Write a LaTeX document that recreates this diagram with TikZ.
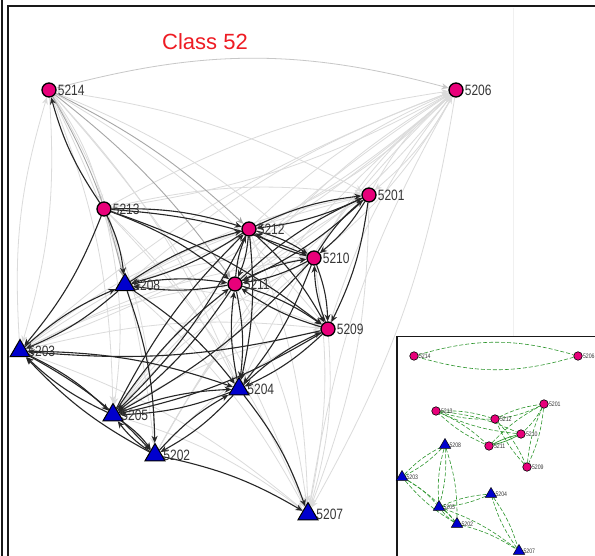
\documentclass[tikz,border=0pt]{standalone}
\usepackage{fontspec}
\setmainfont{Liberation Sans}
\newfontfamily\lblfont[FakeStretch=0.8]{Liberation Sans}
\usetikzlibrary{shapes.geometric,arrows.meta}
\pgfdeclarelayer{bgfill}\pgfdeclarelayer{edges}\pgfdeclarelayer{ibox}\pgfdeclarelayer{iedges}\pgfdeclarelayer{inodes}
\pgfsetlayers{bgfill,edges,main,ibox,iedges,inodes}
\definecolor{pinkf}{RGB}{232,0,122}
\definecolor{bluef}{RGB}{0,0,205}
\definecolor{titlered}{RGB}{238,28,36}
\definecolor{lblgray}{RGB}{55,55,55}
\definecolor{dgreen}{RGB}{45,150,45}
\begin{document}
\begin{tikzpicture}[x=1pt,y=-1pt,
 cnode/.style={circle,draw=black,line width=1.3pt,fill=pinkf,minimum size=14pt,inner sep=0pt},
 tnode/.style={regular polygon,regular polygon sides=3,draw=black,line width=1pt,fill=bluef,minimum size=23pt,inner sep=0pt},
 lbl/.style={font=\lblfont\fontsize{15}{15}\selectfont,text=lblgray,inner sep=1pt,label distance=0pt},
 strong/.style={draw=black!85,line width=1.1pt,-{Stealth[length=7pt,width=6pt]},bend left=9},
 medium/.style={draw=black!35,line width=0.9pt,-{Stealth[length=7pt,width=6pt]},bend left=8},
 weak/.style={draw=black!14,line width=0.8pt,-{Stealth[length=7pt,width=6pt]},bend left=10},
 icnode/.style={circle,draw=black,line width=0.6pt,fill=pinkf,minimum size=8.5pt,inner sep=0pt},
 itnode/.style={regular polygon,regular polygon sides=3,draw=black,line width=0.5pt,fill=bluef,minimum size=13pt,inner sep=0pt},
 ilbl/.style={font=\lblfont\fontsize{6.5}{6.5}\selectfont,text=lblgray,inner sep=0.3pt},
 iedge/.style={draw=dgreen,line width=0.6pt,dash pattern=on 4pt off 2pt,bend left=9},
 frame/.style={draw=black!90,line width=2pt}
]
\useasboundingbox (0,0) rectangle (595,556);
\begin{pgfonlayer}{bgfill}
\fill[white] (0,0) rectangle (595,556);
\draw[black!6,line width=0.8pt] (513,8) -- (513,336);
\end{pgfonlayer}
% frames
\draw[frame] (1.5,0) -- (1.5,556);
\draw[frame] (8,560) -- (8,6.5) -- (600,6.5);
% title
\node[text=titlered,font=\fontsize{22}{22}\selectfont] (title) at (205,42) {Class 52};
% main nodes
\node[cnode,label={[lbl]right:5214}] (n5214) at (49,90) {};
\node[cnode,label={[lbl]right:5206}] (n5206) at (456,90) {};
\node[cnode,label={[lbl]right:5213}] (n5213) at (104,209) {};
\node[cnode,label={[lbl]right:5201}] (n5201) at (369,195) {};
\node[cnode,label={[lbl]right:5212}] (n5212) at (249,229) {};
\node[cnode,label={[lbl]right:5210}] (n5210) at (314,258) {};
\node[cnode,label={[lbl]right:5211}] (n5211) at (235,284) {};
\node[cnode,label={[lbl]right:5209}] (n5209) at (328,329) {};
\node[tnode,label={[lbl]right:5208}] (n5208) at (125,285) {};
\node[tnode,label={[lbl]right:5203}] (n5203) at (20,351) {};
\node[tnode,label={[lbl]right:5204}] (n5204) at (239,389) {};
\node[tnode,label={[lbl]right:5205}] (n5205) at (113,415) {};
\node[tnode,label={[lbl]right:5202}] (n5202) at (155,455) {};
\node[tnode,label={[lbl]right:5207}] (n5207) at (308,514) {};
% main edges
\begin{pgfonlayer}{edges}
\draw[weak,draw=black!22,bend left=15] (n5214) to (n5206);
\foreach \a in {5213,5212,5211,5210,5201,5209,5208,5203,5205,5204,5202,5207}
  \draw[weak] (n\a) to (n5206);
\foreach \a in {5214,5213,5208,5203,5205,5211,5212,5210,5209,5201,5206}
  \draw[weak] (n\a) to (n5207);
\foreach \b in {5203,5208,5205,5202,5210,5201,5209,5204,5213}
  \draw[weak] (n5214) to (n\b);
\foreach \b in {5212,5211,5208,5213,5203,5201,5210}
  \draw[weak] (n5206) to (n\b);
\foreach \a/\b in {5203/5209,5203/5210,5208/5201,5213/5201,5203/5201,5205/5210,5202/5209,5202/5210,5202/5201,5205/5201,5203/5212,5208/5209,5208/5210,5213/5204,5213/5202,5203/5211,5205/5209,5213/5205,5203/5214}
  \draw[weak] (n\a) to (n\b);
\foreach \a/\b in {5214/5212,5214/5211,5214/5208}
  \draw[medium] (n\a) to (n\b);
\foreach \a/\b in {5213/5214,5213/5212,5213/5208,5213/5211,5213/5210,5213/5203,5213/5209,
 5212/5201,5201/5212,5212/5210,5210/5212,5212/5211,5211/5212,5212/5208,5208/5212,5212/5209,5212/5204,5212/5205,5205/5212,
 5211/5201,5201/5211,5211/5210,5210/5211,5211/5209,5209/5211,5211/5204,5204/5211,5211/5208,5208/5211,5211/5205,5205/5211,
 5210/5201,5201/5210,5210/5209,5209/5210,5210/5204,5210/5205,
 5209/5204,5204/5209,5209/5203,5209/5205,5201/5209,
 5208/5203,5203/5208,5208/5202,5208/5204,
 5203/5205,5205/5203,5203/5202,5202/5203,5203/5204,
 5204/5205,5205/5204,5204/5202,5202/5204,5204/5207,
 5205/5202,5202/5205,5202/5207}
  \draw[strong] (n\a) to (n\b);
\end{pgfonlayer}
% inset
\begin{pgfonlayer}{ibox}
\fill[white] (397,336.5) rectangle (600,560);
\draw[black!90,line width=1.3pt] (397,560) -- (397,336.5) -- (600,336.5);
\end{pgfonlayer}
\begin{pgfonlayer}{inodes}
\node[icnode,label={[ilbl]right:5214}] (i5214) at (414,356) {};
\node[icnode,label={[ilbl]right:5206}] (i5206) at (578,356) {};
\node[icnode,label={[ilbl]right:5213}] (i5213) at (436,411) {};
\node[icnode,label={[ilbl]right:5212}] (i5212) at (495,419) {};
\node[icnode,label={[ilbl]right:5201}] (i5201) at (544,404) {};
\node[icnode,label={[ilbl]right:5210}] (i5210) at (521,434) {};
\node[icnode,label={[ilbl]right:5211}] (i5211) at (489,446) {};
\node[icnode,label={[ilbl]right:5209}] (i5209) at (527,467) {};
\node[itnode,label={[ilbl]right:5208}] (i5208) at (445,445) {};
\node[itnode,label={[ilbl]right:5203}] (i5203) at (402,477) {};
\node[itnode,label={[ilbl]right:5204}] (i5204) at (491,494) {};
\node[itnode,label={[ilbl]right:5205}] (i5205) at (439,507) {};
\node[itnode,label={[ilbl]right:5202}] (i5202) at (457,524) {};
\node[itnode,label={[ilbl]right:5207}] (i5207) at (519,551) {};
\end{pgfonlayer}
\begin{pgfonlayer}{iedges}
\draw[iedge,bend left=16] (i5214) to (i5206);
\draw[iedge,bend left=16] (i5206) to (i5214);
\foreach \a/\b in {5213/5212,5212/5213,5213/5210,5210/5213,5213/5211,5211/5213,
 5212/5201,5201/5212,5212/5209,5209/5212,5201/5210,5201/5209,5209/5201,5211/5201,
 5208/5203,5203/5208,5208/5205,5205/5208,5208/5202,5203/5205,5203/5202,5202/5203,
 5205/5204,5204/5205,5205/5202,5202/5205,5205/5207,5202/5207,5204/5207,5207/5204}
  \draw[iedge] (i\a) to (i\b);
\draw[dgreen,line width=0.7pt,bend left=6] (i5211) to (i5210);
\draw[dgreen,line width=0.7pt,bend left=6] (i5210) to (i5211);
\end{pgfonlayer}
\end{tikzpicture}
\end{document}
